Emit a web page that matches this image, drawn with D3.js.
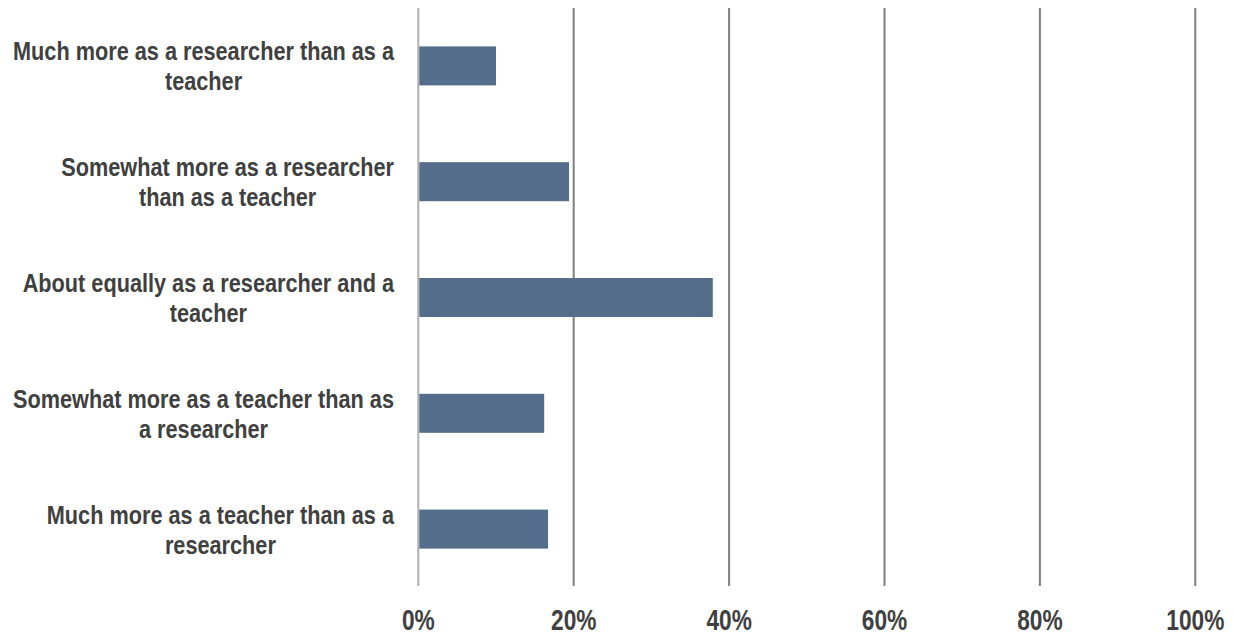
<!DOCTYPE html>
<html><head><meta charset="utf-8">
<script src="https://cdn.jsdelivr.net/npm/d3@7"></script>
<style>
body{margin:0;background:#fff;}
text{font-family:"Liberation Sans",Arial,sans-serif;font-weight:bold;fill:#404040;}
</style></head>
<body><svg id="c" width="1234" height="636"></svg>
<script>
const categories = [
  "Much more as a researcher than as a teacher",
  "Somewhat more as a researcher than as a teacher",
  "About equally as a researcher and a teacher",
  "Somewhat more as a teacher than as a researcher",
  "Much more as a teacher than as a researcher"
];
const labelLines = [
  ["Much more as a researcher than as a", "teacher"],
  ["Somewhat more as a researcher", "than as a teacher"],
  ["About equally as a researcher and a", "teacher"],
  ["Somewhat more as a teacher than as", "a researcher"],
  ["Much more as a teacher than as a", "researcher"]
];
const values = [0.10, 0.194, 0.379, 0.162, 0.167];
const tickValues = [0, 0.2, 0.4, 0.6, 0.8, 1.0];
const tickLabels = ["0%", "20%", "40%", "60%", "80%", "100%"];

const svg = d3.select("#c");
const x = d3.scaleLinear().domain([0, 1]).range([418.3, 1195.3]);
const y = d3.scaleBand().domain(categories).range([8, 587]).paddingInner(0.663).paddingOuter(0.3315);

// gridlines
svg.append("g").selectAll("line").data(tickValues).join("line")
  .attr("x1", d => x(d)).attr("x2", d => x(d))
  .attr("y1", 8).attr("y2", 586)
  .attr("stroke", (d, i) => i === 0 ? "#b0b0b0" : "#7f7f7f")
  .attr("stroke-width", 2);

// bars
svg.append("g").selectAll("rect").data(values).join("rect")
  .attr("x", x(0) + 1)
  .attr("y", (d, i) => y(categories[i]))
  .attr("width", d => x(d) - x(0) - 1)
  .attr("height", y.bandwidth())
  .attr("fill", "#546d8a");

// narrow-font emulation factor
function natural(str, fs) {
  const t = svg.append("text").style("font-size", fs + "px").text(str);
  const w = t.node().getComputedTextLength();
  t.remove();
  return w;
}
const kLab = 381 / natural(labelLines[0][0], 25);
const kTick = 58 / natural("100%", 29);

// tick labels
svg.append("g").selectAll("text").data(tickValues).join("text")
  .attr("transform", d => `translate(${x(d)},630) scale(${kTick},1)`)
  .attr("text-anchor", "middle")
  .style("font-size", "29px")
  .text((d, i) => tickLabels[i]);

// category labels
const lab = svg.append("g");
categories.forEach((c, i) => {
  const lines = labelLines[i];
  const g = lab.append("g");
  const texts = lines.map((l) => {
    const t = g.append("text")
      .style("font-size", "25px")
      .attr("text-anchor", "middle")
      .text(l);
    const w = t.node().getComputedTextLength() * kLab;
    t.attr("textLength", w).attr("lengthAdjust", "spacingAndGlyphs");
    return {t, w};
  });
  const maxW = d3.max(texts, d => d.w);
  const cx = 394 - maxW / 2;
  const cy = y(c) + y.bandwidth() / 2;
  const lh = 30;
  texts.forEach((d, j) => d.t.attr("x", cx).attr("y", cy + (j - (lines.length - 1) / 2) * lh + 9.5));
});
</script></body></html>
